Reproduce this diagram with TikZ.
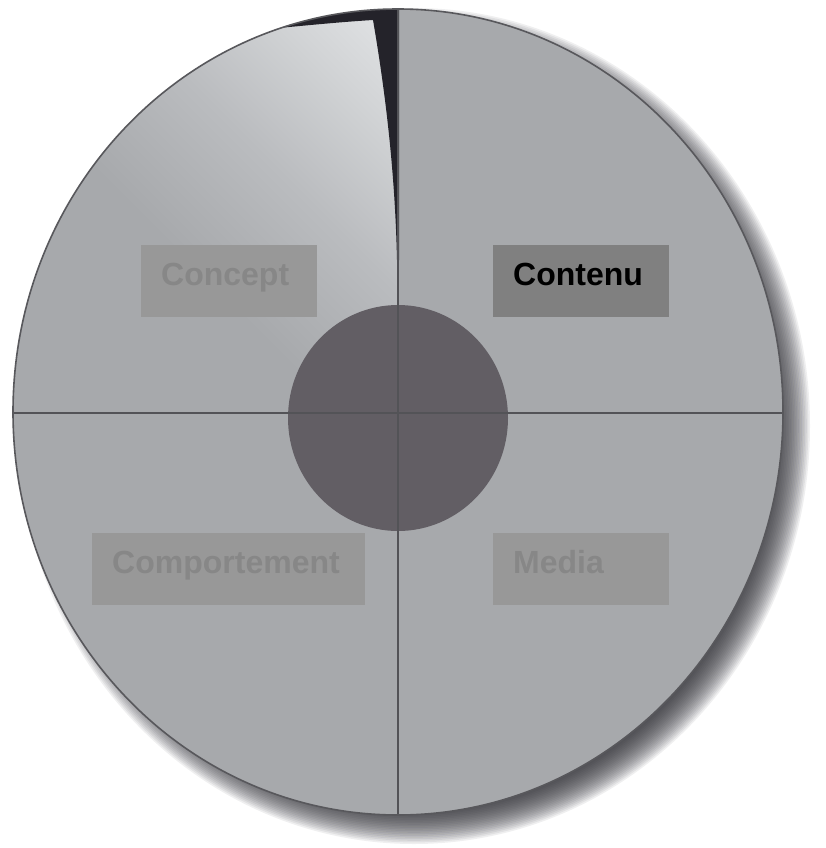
\documentclass[tikz,border=0pt]{standalone}
\usepackage{fontspec}
\setmainfont{Liberation Sans}
\definecolor{diskgray}{HTML}{A7A9AC}
\definecolor{light1}{HTML}{BABCBF}
\definecolor{light2}{HTML}{D2D4D6}
\definecolor{toplight}{HTML}{E5E7E9}
\definecolor{slivercol}{HTML}{24232A}
\definecolor{innercol}{HTML}{625E64}
\definecolor{linecol}{HTML}{535357}
\definecolor{rimcol}{HTML}{58585C}
\definecolor{shadowcol}{HTML}{303036}
\definecolor{boxgray}{HTML}{989898}
\definecolor{boxdark}{HTML}{808080}
\definecolor{txtgray}{HTML}{878787}
\pgfdeclareverticalshading{conceptshade}{100bp}{color(0bp)=(diskgray); color(44bp)=(diskgray); color(60bp)=(light1); color(74bp)=(light2); color(86bp)=(toplight); color(100bp)=(toplight)}
\begin{document}
\begin{tikzpicture}[x=1pt,y=1pt,
  lbl/.style={rectangle, anchor=north west, minimum height=72pt, inner xsep=20pt,
    text height=22pt, text depth=14pt, align=left,
    font=\bfseries\fontsize{32}{32}\selectfont},
  divline/.style={draw=linecol, line width=2pt},
  rim/.style={draw=rimcol, line width=1.6pt}]
\fill[white] (0,0) rectangle (825,-848);
\useasboundingbox (0,0) rectangle (825,-848);
% shadow
\foreach \k [evaluate=\k as \rx using 364+1.6*\k, evaluate=\k as \ry using 386+1.6*\k] in {0,...,20}
  \fill[shadowcol, opacity=0.075] (414,-426) ellipse [x radius=\rx pt, y radius=\ry pt];
% disk
\fill[diskgray] (398,-412) ellipse [x radius=385pt, y radius=403pt];
\begin{scope}
  \clip (398,-412) ellipse [x radius=385pt, y radius=403pt];
  \shade[shading=conceptshade, shading angle=-45] (0,0) rectangle (398,-412);
  \fill[slivercol] (258,-30) .. controls (300,-26) and (340,-22) .. (373,-20)
     .. controls (385,-90) and (395,-170) .. (397,-260) -- (399,-260) -- (399,0) -- (250,0) -- cycle;
\end{scope}
% inner circle
\fill[innercol] (398,-418) ellipse [x radius=110pt, y radius=113pt];
% dividing lines
\begin{scope}
  \clip (398,-412) ellipse [x radius=385pt, y radius=403pt];
  \draw[divline] (398,0) -- (398,-848);
  \draw[divline] (0,-413) -- (825,-413);
\end{scope}
\draw[rim] (398,-412) ellipse [x radius=385pt, y radius=403pt];
% labels
\node[lbl, fill=boxgray, text=txtgray, text width=136pt] (concept) at (141,-245) {Concept};
\node[lbl, fill=boxdark, text=black, text width=136pt] (contenu) at (493,-245) {Contenu};
\node[lbl, fill=boxgray, text=txtgray, text width=233pt] (comport) at (92,-533) {Comportement};
\node[lbl, fill=boxgray, text=txtgray, text width=136pt] (media) at (493,-533) {Media};
\end{tikzpicture}
\end{document}
